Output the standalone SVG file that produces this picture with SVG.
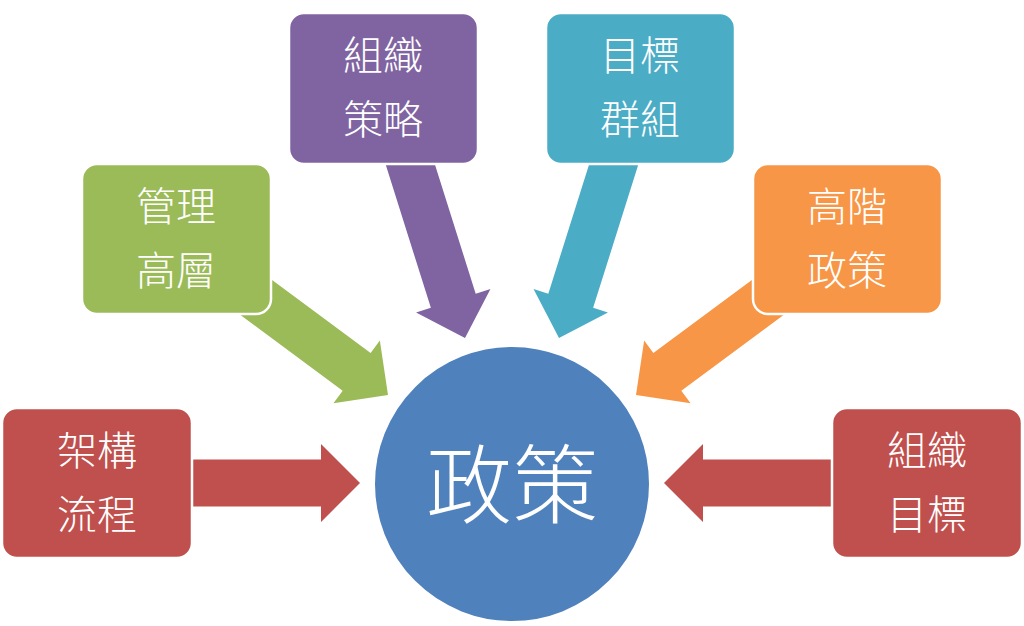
<svg xmlns="http://www.w3.org/2000/svg" width="1024" height="626" viewBox="0 0 1024 626">
<defs>
<style>
.box{stroke:#fff;stroke-width:2.5}
.t{fill:#fff;font-family:"Noto Sans CJK TC","Noto Sans CJK SC",sans-serif;font-size:40px;font-weight:300;text-anchor:middle;dominant-baseline:central}
.big{font-size:86px}
</style>
<path id="arr" d="M0,0 L-39,-39 L-39,-23.5 L-200,-23.5 L-200,23.5 L-39,23.5 L-39,39 Z"/>
<path id="arrh" d="M0,0 L-39,-39 L-39,-23.5 L-175,-23.5 L-175,23.5 L-39,23.5 L-39,39 Z"/>
</defs>
<rect width="1024" height="626" fill="#fff"/>
<g id="connectors">
<use href="#arrh" fill="#C0504D" transform="translate(360,483)"/>
<use href="#arrh" fill="#C0504D" transform="translate(664,483) rotate(180)"/>
<use href="#arrh" fill="#9BBB59" transform="translate(388,395) rotate(36.5)"/>
<use href="#arrh" fill="#F79646" transform="translate(636,395) rotate(143.5)"/>
<use href="#arr" fill="#8064A2" transform="translate(465,338) rotate(72.5)"/>
<use href="#arr" fill="#4BACC6" transform="translate(559,338) rotate(107.5)"/>
</g>
<g id="center">
<circle cx="512" cy="484" r="138" fill="#4F81BD" stroke="#fff" stroke-width="2"/>
<text class="t big" x="512" y="479">政策</text>
</g>
<g id="n-jiagou">
<rect class="box" x="2" y="408" width="190" height="150" rx="15" fill="#C0504D"/>
<text class="t" x="97" y="448">架構</text>
<text class="t" x="97" y="512">流程</text>
</g>
<g id="n-guanli">
<rect class="box" x="82" y="164" width="189" height="150" rx="15" fill="#9BBB59"/>
<text class="t" x="176" y="204">管理</text>
<text class="t" x="176" y="268">高層</text>
</g>
<g id="n-zuzhi-celue">
<rect class="box" x="289" y="13" width="189" height="151" rx="15" fill="#8064A2"/>
<text class="t" x="383" y="53">組織</text>
<text class="t" x="383" y="117">策略</text>
</g>
<g id="n-mubiao-qunzu">
<rect class="box" x="546" y="13" width="189" height="151" rx="15" fill="#4BACC6"/>
<text class="t" x="640" y="53">目標</text>
<text class="t" x="640" y="117">群組</text>
</g>
<g id="n-gaojie">
<rect class="box" x="753" y="164" width="189" height="150" rx="15" fill="#F79646"/>
<text class="t" x="847" y="204">高階</text>
<text class="t" x="847" y="268">政策</text>
</g>
<g id="n-zuzhi-mubiao">
<rect class="box" x="832" y="408" width="190" height="150" rx="15" fill="#C0504D"/>
<text class="t" x="927" y="448">組織</text>
<text class="t" x="927" y="512">目標</text>
</g>
</svg>
